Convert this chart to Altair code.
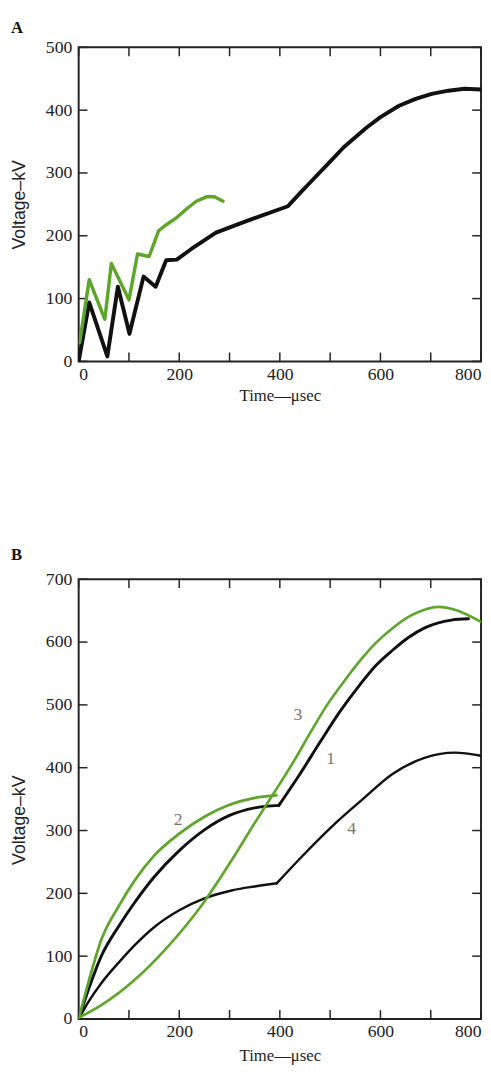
import altair as alt
import pandas as pd

# ---------------- Panel A data ----------------
a_black_t = [0, 21, 57, 78, 101, 129, 153, 174, 195, 224, 273, 332, 416, 440, 464, 500, 527, 572, 600, 637, 670, 702, 735, 767, 800]
a_black_v = [0, 94, 8, 119, 44, 135, 119, 161, 162, 179, 205, 223, 247, 268, 288, 318, 341, 372, 389, 407, 418, 426, 431, 434, 433]
a_green_t = [2, 21, 52, 65, 100, 117, 140, 159, 175, 195, 215, 234, 254, 270, 287]
a_green_v = [30, 130, 67, 156, 98, 171, 167, 208, 218, 229, 243, 255, 262, 262, 255]

# ---------------- Panel B data ----------------
# curve 1 (black), before and after the break at ~400 usec
b1a_t = [0, 20, 45, 80, 111, 150, 200, 250, 300, 350, 398]
b1a_v = [0, 48, 100, 148, 185, 226, 268, 301, 324, 336, 340]
b1b_t = [398, 440, 481, 520, 559, 590, 624, 655, 689, 741, 775]
b1b_v = [340, 390, 442, 490, 532, 562, 587, 607, 623, 635, 637]
# curve 2 (green)
b2_t = [0, 20, 45, 80, 111, 150, 200, 250, 300, 350, 393]
b2_v = [0, 60, 126, 180, 220, 260, 295, 322, 341, 352, 356]
# curve 3 (green)
b3_t = [0, 45, 111, 176, 241, 306, 350, 390, 429, 460, 494, 530, 559, 590, 624, 660, 689, 715, 754, 800]
b3_v = [2, 22, 62, 114, 177, 255, 312, 362, 412, 455, 500, 540, 570, 598, 622, 642, 652, 656, 650, 632]
# curve 4 (black), before and after the break
b4a_t = [0, 20, 45, 80, 111, 150, 200, 250, 306, 350, 394]
b4a_v = [0, 28, 57, 90, 117, 146, 173, 192, 205, 211, 216]
b4b_t = [394, 442, 507, 565, 624, 689, 748, 800]
b4b_v = [216, 257, 309, 350, 390, 416, 424, 419]

b_label_text = ["1", "2", "3", "4"]
b_label_t = [501, 198, 436, 543]
b_label_v = [414, 317, 484, 302]

x_ticks = [0, 100, 200, 300, 400, 500, 600, 700, 800]
x_labels = [0, 200, 400, 600, 800]
a_y_ticks = [0, 100, 200, 300, 400, 500]
b_y_ticks = [0, 100, 200, 300, 400, 500, 600, 700]

GREEN = "#5ea62a"
BLACK = "#111111"
FRAME = "#222222"
W = 410
TICK = 9


def series_df(pairs):
    rows = []
    for curve, seg, ts, vs in pairs:
        for t, v in zip(ts, vs):
            rows.append({"t": t, "v": v, "curve": curve, "seg": seg})
    return pd.DataFrame(rows)


def panel(df, names, colors, widths, interp, ymax, yticks, H, title, title_offset,
          xtitle_pad, ytitle_y=None, labels=None):
    X = alt.X("t:Q", scale=alt.Scale(domain=[0, 800], nice=False, zero=False),
              axis=alt.Axis(values=x_labels, title="Time—μsec", labelFlush=True, titlePadding=xtitle_pad))
    yaxis_kw = dict(values=yticks, title="Voltage–kV")
    if ytitle_y is not None:
        yaxis_kw["titleY"] = ytitle_y
    Y = alt.Y("v:Q", scale=alt.Scale(domain=[0, ymax], nice=False, zero=False),
              axis=alt.Axis(**yaxis_kw))
    lines = alt.Chart(df).mark_line(interpolate=interp, clip=True, strokeCap="round", strokeJoin="round").encode(
        x=X, y=Y,
        color=alt.Color("curve:N", scale=alt.Scale(domain=names, range=colors), legend=None),
        strokeWidth=alt.StrokeWidth("curve:N", scale=alt.Scale(domain=names, range=widths), legend=None),
        detail="seg:N",
    )
    xt = pd.DataFrame({"t": x_ticks})
    yt = pd.DataFrame({"v": yticks})
    tb = alt.Chart(xt).mark_rule(color=FRAME, strokeWidth=1.5).encode(x=X, y=alt.value(H), y2=alt.value(H - TICK))
    tt = alt.Chart(xt).mark_rule(color=FRAME, strokeWidth=1.5).encode(x=X, y=alt.value(0), y2=alt.value(TICK))
    tl = alt.Chart(yt).mark_rule(color=FRAME, strokeWidth=1.5).encode(y=Y, x=alt.value(0), x2=alt.value(TICK))
    tr = alt.Chart(yt).mark_rule(color=FRAME, strokeWidth=1.5).encode(y=Y, x=alt.value(W - TICK), x2=alt.value(W))
    layers = [tb, tt, tl, tr, lines]
    if labels is not None:
        txt = alt.Chart(labels).mark_text(font="Liberation Serif", fontSize=18, color="#777777").encode(
            x=X, y=Y, text="label:N")
        layers.append(txt)
    return alt.layer(*layers).properties(
        width=W, height=H,
        title=alt.Title(title, anchor="start", font="Liberation Serif", fontSize=17, fontWeight="bold",
                        color=BLACK, offset=title_offset),
    )


dfA = series_df([("A black", "A black", a_black_t, a_black_v),
                 ("A green", "A green", a_green_t, a_green_v)])
chartA = panel(dfA, ["A green", "A black"], [GREEN, BLACK], [3.5, 4], "linear", 500, a_y_ticks, 320, "A", 2,
               xtitle_pad=5)

dfB = series_df([("4", "4a", b4a_t, b4a_v), ("4", "4b", b4b_t, b4b_v),
                 ("1", "1a", b1a_t, b1a_v), ("1", "1b", b1b_t, b1b_v),
                 ("2", "2", b2_t, b2_v), ("3", "3", b3_t, b3_v)])
labB = pd.DataFrame({"label": b_label_text, "t": b_label_t, "v": b_label_v})
chartB = panel(dfB, ["1", "2", "3", "4"], [BLACK, GREEN, GREEN, BLACK], [3, 2.5, 2.5, 3], "monotone",
               700, b_y_ticks, 448, "B", 7, xtitle_pad=7, ytitle_y=245, labels=labB)

chart = alt.vconcat(chartA, chartB, spacing=222, bounds="flush").resolve_scale(
    color="independent", strokeWidth="independent"
).properties(
    padding={"left": 2, "top": 0, "right": 0, "bottom": 0}
).configure_view(stroke=FRAME, strokeWidth=2).configure_axis(
    grid=False, domain=False, ticks=False, tickSize=0,
    labelFont="Liberation Serif", labelFontSize=18, labelColor="#222222", labelPadding=7,
    titleColor="#222222", titleFontWeight="normal",
).configure_axisY(
    titleFont="Liberation Sans", titleFontSize=18, titlePadding=17,
).configure_axisX(
    titleFont="Liberation Serif", titleFontSize=17, labelPadding=4,
)

chart.save("out.html", embed_options={"renderer": "svg", "actions": False})
